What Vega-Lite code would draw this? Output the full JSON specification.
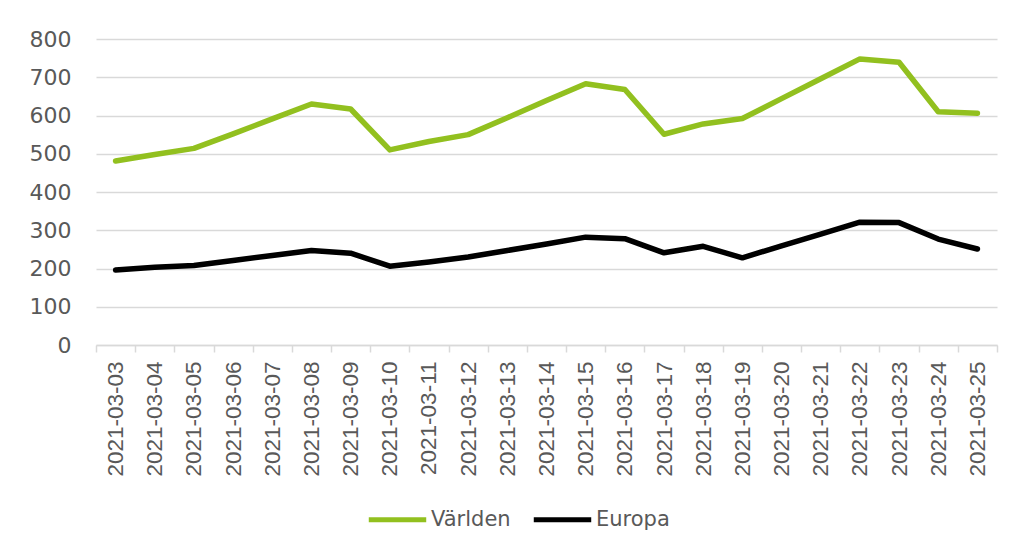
{
  "$schema": "https://vega.github.io/schema/vega-lite/v6.json",
  "autosize": "none",
  "width": 901,
  "height": 306,
  "padding": {"left": 96, "top": 39, "right": 17, "bottom": 205},
  "background": "white",
  "config": {
    "view": {"stroke": null},
    "axis": {"labelColor": "#595959", "gridColor": "#d9d9d9", "domainColor": "#d9d9d9", "tickColor": "#d9d9d9"}
  },
  "data": {
    "values": [
      {"date": "2021-03-03", "serie": "Världen", "value": 481},
      {"date": "2021-03-04", "serie": "Världen", "value": 498},
      {"date": "2021-03-05", "serie": "Världen", "value": 514},
      {"date": "2021-03-06", "serie": "Världen", "value": 552},
      {"date": "2021-03-07", "serie": "Världen", "value": 591},
      {"date": "2021-03-08", "serie": "Världen", "value": 630},
      {"date": "2021-03-09", "serie": "Världen", "value": 617},
      {"date": "2021-03-10", "serie": "Världen", "value": 510},
      {"date": "2021-03-11", "serie": "Världen", "value": 532},
      {"date": "2021-03-12", "serie": "Världen", "value": 550},
      {"date": "2021-03-13", "serie": "Världen", "value": 594},
      {"date": "2021-03-14", "serie": "Världen", "value": 639},
      {"date": "2021-03-15", "serie": "Världen", "value": 683},
      {"date": "2021-03-16", "serie": "Världen", "value": 668},
      {"date": "2021-03-17", "serie": "Världen", "value": 551},
      {"date": "2021-03-18", "serie": "Världen", "value": 578},
      {"date": "2021-03-19", "serie": "Världen", "value": 592},
      {"date": "2021-03-20", "serie": "Världen", "value": 644},
      {"date": "2021-03-21", "serie": "Världen", "value": 696},
      {"date": "2021-03-22", "serie": "Världen", "value": 748},
      {"date": "2021-03-23", "serie": "Världen", "value": 739},
      {"date": "2021-03-24", "serie": "Världen", "value": 610},
      {"date": "2021-03-25", "serie": "Världen", "value": 606},
      {"date": "2021-03-03", "serie": "Europa", "value": 196},
      {"date": "2021-03-04", "serie": "Europa", "value": 203},
      {"date": "2021-03-05", "serie": "Europa", "value": 208},
      {"date": "2021-03-06", "serie": "Europa", "value": 221},
      {"date": "2021-03-07", "serie": "Europa", "value": 234},
      {"date": "2021-03-08", "serie": "Europa", "value": 247},
      {"date": "2021-03-09", "serie": "Europa", "value": 240},
      {"date": "2021-03-10", "serie": "Europa", "value": 206},
      {"date": "2021-03-11", "serie": "Europa", "value": 217},
      {"date": "2021-03-12", "serie": "Europa", "value": 230},
      {"date": "2021-03-13", "serie": "Europa", "value": 247},
      {"date": "2021-03-14", "serie": "Europa", "value": 264},
      {"date": "2021-03-15", "serie": "Europa", "value": 282},
      {"date": "2021-03-16", "serie": "Europa", "value": 278},
      {"date": "2021-03-17", "serie": "Europa", "value": 241},
      {"date": "2021-03-18", "serie": "Europa", "value": 258},
      {"date": "2021-03-19", "serie": "Europa", "value": 228},
      {"date": "2021-03-20", "serie": "Europa", "value": 259},
      {"date": "2021-03-21", "serie": "Europa", "value": 290},
      {"date": "2021-03-22", "serie": "Europa", "value": 321},
      {"date": "2021-03-23", "serie": "Europa", "value": 320},
      {"date": "2021-03-24", "serie": "Europa", "value": 277},
      {"date": "2021-03-25", "serie": "Europa", "value": 251}
    ]
  },
  "mark": {"type": "line", "strokeWidth": 5.5, "strokeCap": "round", "strokeJoin": "round"},
  "encoding": {
    "x": {
      "field": "date",
      "type": "ordinal",
      "scale": {"type": "band", "paddingInner": 0, "paddingOuter": 0},
      "axis": {
        "title": null,
        "labelAngle": -90,
        "labelFont": "Liberation Sans",
        "labelFontSize": 22.5,
        "labelPadding": 9,
        "tickBand": "extent",
        "tickSize": 7,
        "tickWidth": 1.5,
        "domainWidth": 1.5,
        "grid": false
      }
    },
    "y": {
      "field": "value",
      "type": "quantitative",
      "scale": {"domain": [0, 800], "nice": false},
      "axis": {
        "title": null,
        "values": [0, 100, 200, 300, 400, 500, 600, 700, 800],
        "labelFont": "DejaVu Sans",
        "labelFontSize": 22,
        "labelPadding": 25,
        "ticks": false,
        "domain": false,
        "gridWidth": 1.5
      }
    },
    "color": {
      "field": "serie",
      "type": "nominal",
      "sort": ["Världen", "Europa"],
      "scale": {"domain": ["Världen", "Europa"], "range": ["#92C01F", "#000000"]},
      "legend": {
        "title": null,
        "orient": "none",
        "direction": "horizontal",
        "legendX": 270,
        "legendY": 449,
        "padding": 0,
        "symbolType": "stroke",
        "symbolSize": 3300,
        "symbolStrokeWidth": 5,
        "labelFont": "DejaVu Sans",
        "labelFontSize": 21,
        "labelColor": "#595959",
        "labelOffset": 2,
        "columnPadding": 12
      }
    }
  }
}
